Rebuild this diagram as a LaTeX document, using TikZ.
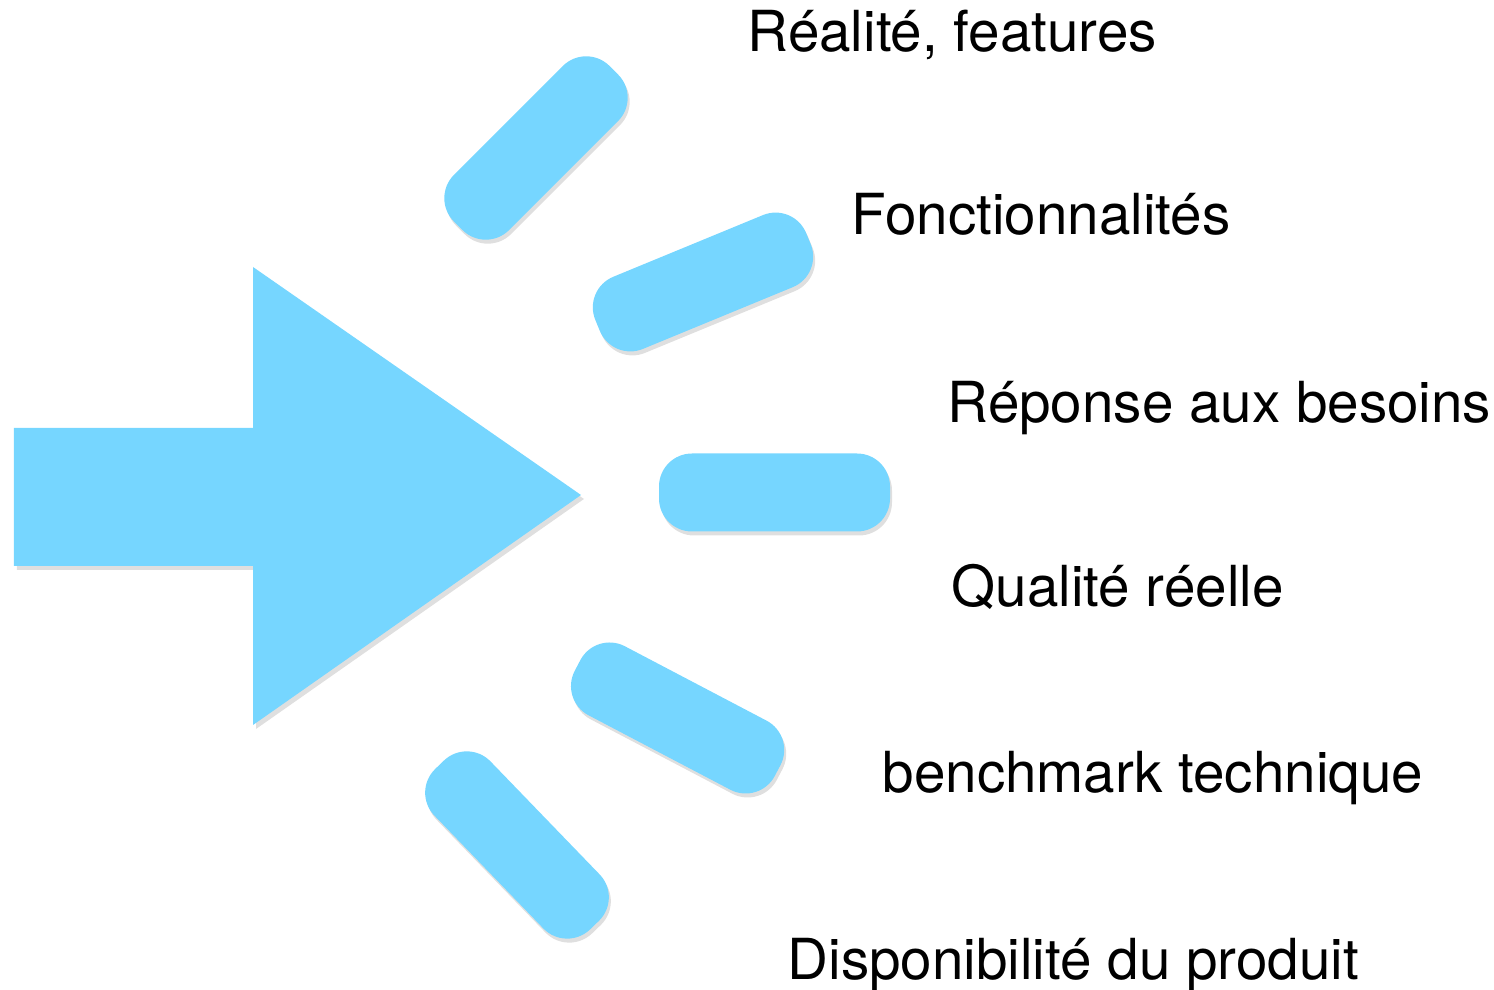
\documentclass[tikz,border=0pt]{standalone}
\usepackage{fontspec}
\setmainfont{TeX Gyre Heros}
\usetikzlibrary{shadows}
\definecolor{cielo}{RGB}{118,214,255}

\begin{document}
\begin{tikzpicture}[
    barra/.style={rectangle, fill=cielo, rounded corners=0.33cm, minimum height=0.78cm, inner sep=0pt,
        drop shadow={opacity=0.25, shadow xshift=0.02cm, shadow yshift=-0.04cm}},
    etiqueta/.style={anchor=base west, inner sep=0pt, font=\fontsize{16.1}{19}\selectfont}
]
    \useasboundingbox (0,0) rectangle (14.94,9.90);

    % Flecha
    \fill[cielo, drop shadow={opacity=0.25, shadow xshift=0.03cm, shadow yshift=-0.04cm}]
        (0.14,5.62) -- (2.53,5.62) -- (2.53,7.23) -- (5.81,4.95) -- (2.53,2.65) -- (2.53,4.24) -- (0.14,4.24) -- cycle;

    % Barras
    \node[barra, rotate=45, minimum width=2.2cm] (b1) at (5.36,8.42) {};
    \node[barra, rotate=22.4, minimum width=2.28cm] (b2) at (7.03,7.08) {};
    \node[barra, minimum width=2.31cm] (b3) at (7.745,4.975) {};
    \node[barra, rotate=-27.7, minimum width=2.26cm] (b4) at (6.776,2.72) {};
    \node[barra, rotate=-46, minimum width=2.23cm] (b5) at (5.17,1.45) {};

    % Etiquetas
    \node[etiqueta] (l1) at (7.47,9.38) {Réalité, features};
    \node[etiqueta] (l2) at (8.51,7.55) {Fonctionnalités};
    \node[etiqueta] (l3) at (9.47,5.67) {Réponse aux besoins};
    \node[etiqueta] (l4) at (9.51,3.83) {Qualité réelle};
    \node[etiqueta] (l5) at (8.82,1.97) {benchmark technique};
    \node[etiqueta] (l6) at (7.87,0.10) {Disponibilité du produit};
\end{tikzpicture}
\end{document}
